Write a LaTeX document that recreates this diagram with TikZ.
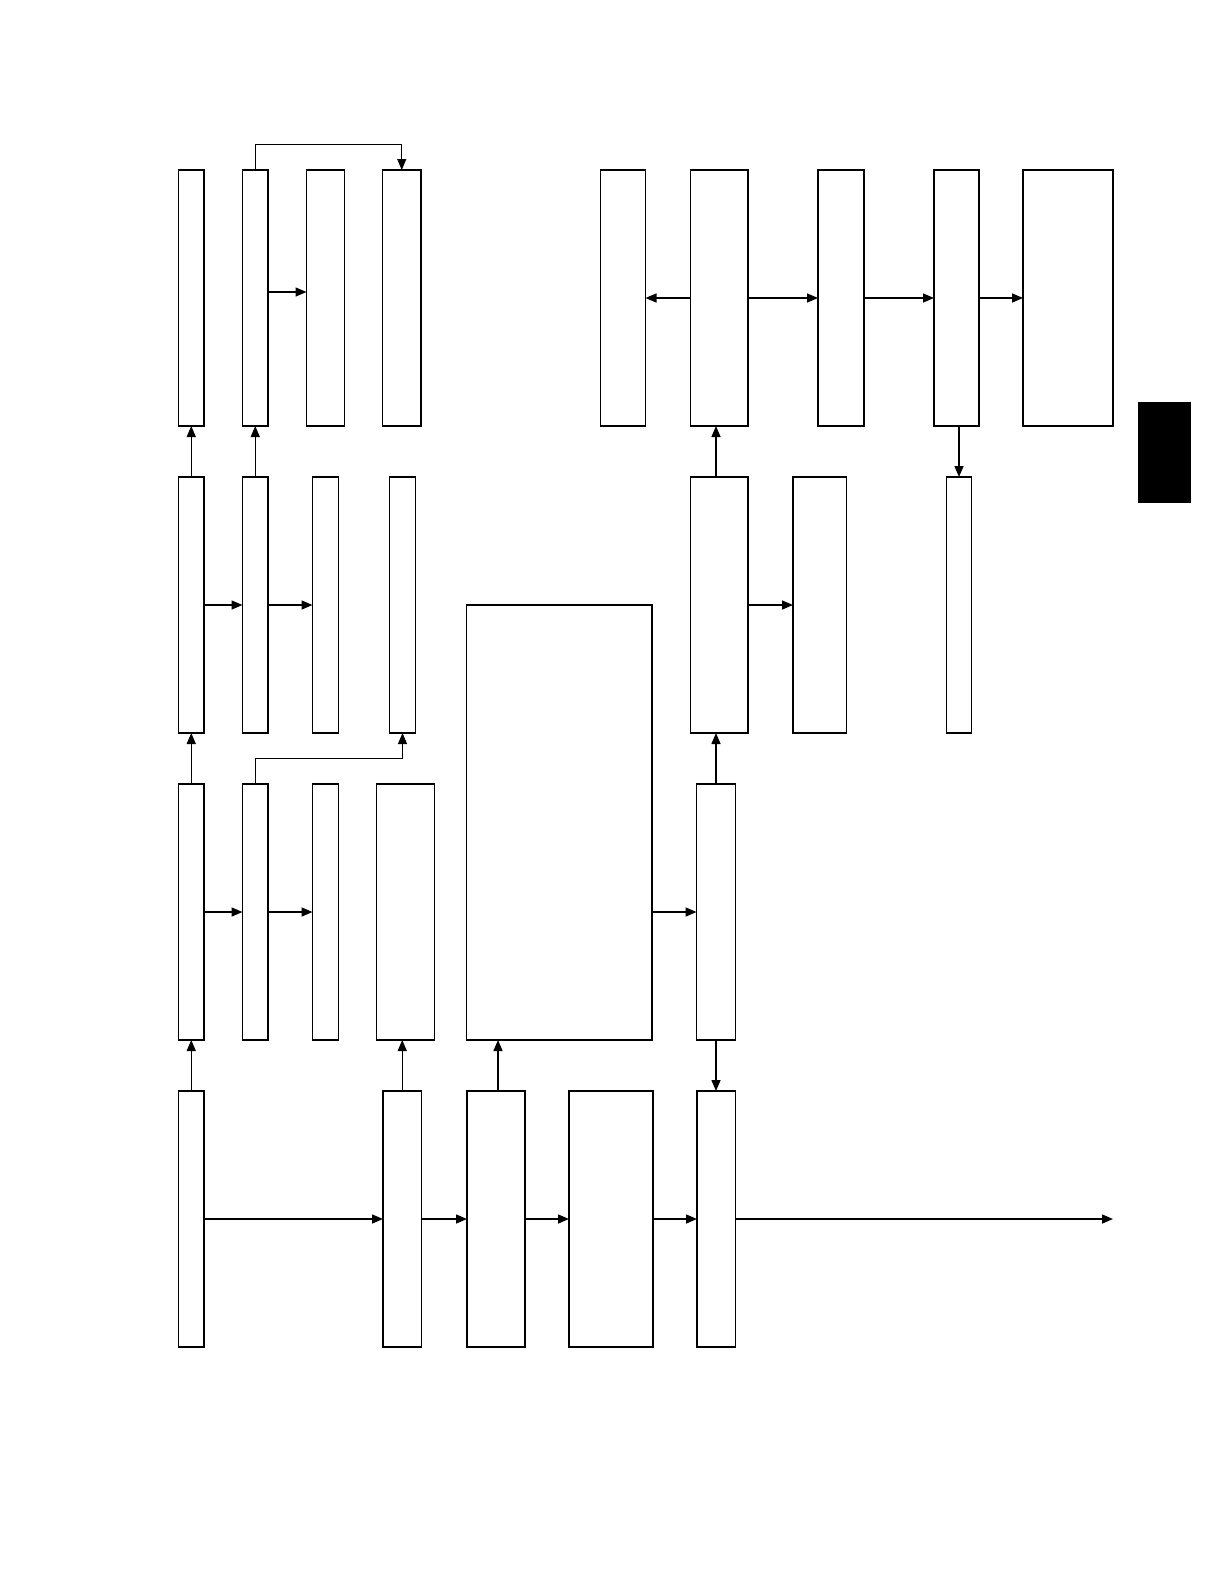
\documentclass[tikz,border=0pt]{standalone}
\usetikzlibrary{arrows.meta}
\tikzset{
  box/.style={draw, line width=1.4pt, fill=white, inner sep=0pt, outer sep=0pt},
  arr/.style={line width=1.5pt, -{Triangle[length=11pt,width=9pt]}},
  thinarr/.style={line width=0.9pt, -{Triangle[length=11pt,width=9pt]}},
}
\newcommand\mybox[5]{\node[box, minimum width={(#3-#2)*1pt}, minimum height={(#5-#4)*1pt}] (#1) at ({(#2+#3)/2},{(#4+#5)/2}) {};}
\begin{document}
\begin{tikzpicture}[x=1pt,y=-1pt]
\useasboundingbox (0,0) rectangle (1224,1584);
% Row 1
\mybox{A1}{178.5}{204}{170}{426}
\mybox{A2}{242.5}{268}{170}{426}
\mybox{A3}{306.5}{344.5}{170}{426}
\mybox{A4}{382.5}{421}{170}{426}
\mybox{A5}{600.5}{645.5}{170}{426}
\mybox{A6}{690.5}{748}{170}{426}
\mybox{A7}{818}{864}{170}{426}
\mybox{A8}{934}{979}{170}{426}
\mybox{A9}{1023}{1113}{170}{426}
% Row 2
\mybox{B1}{178.5}{204}{477}{733}
\mybox{B2}{242.5}{268}{477}{733}
\mybox{B3}{312.5}{338.5}{477}{733}
\mybox{B4}{389.5}{415.5}{477}{733}
\mybox{B6}{690.5}{748}{477}{733}
\mybox{B7}{793}{846.5}{477}{733}
\mybox{B9}{946.5}{971.5}{477}{733}
% Row 3
\mybox{C1}{178.5}{204}{784}{1040}
\mybox{C2}{242.5}{268}{784}{1040}
\mybox{C3}{312.5}{338.5}{784}{1040}
\mybox{C4}{376.5}{434.5}{784}{1040}
\mybox{Big}{466.5}{652}{605}{1040}
\mybox{C5}{696.5}{735.5}{784}{1040}
% Row 4
\mybox{D1}{178.5}{204}{1091}{1347}
\mybox{D2}{383}{421.5}{1091}{1347}
\mybox{D3}{467}{525}{1091}{1347}
\mybox{D4}{569}{653}{1091}{1347}
\mybox{D5}{697}{735.5}{1091}{1347}
% black tab
\node[fill=black, draw=black, inner sep=0pt, minimum width=52pt, minimum height=100pt] (tab) at (1164,452) {};
\coordinate (out) at (1113,1219);
% Row 1 connectors
\draw[arr] ([yshift=6pt]A2.east) -- ([yshift=6pt]A3.west);
\draw[thinarr] (A2.north) -- (A2.north |- 0,144) -| (A4.north);
\draw[arr] (A6.west) -- (A5.east);
\draw[arr] (A6.east) -- (A7.west);
\draw[arr] (A7.east) -- (A8.west);
\draw[arr] (A8.east) -- (A9.west);
\draw[arr] (B9.north |- A8.south) -- (B9.north);
% Row 2 connectors
\draw[arr] (B1.north) -- (A1.south);
\draw[arr] (B2.north) -- (A2.south);
\draw[arr] (B1.east) -- (B2.west);
\draw[arr] (B2.east) -- (B3.west);
\draw[arr] (B6.east) -- (B7.west);
\draw[arr] (C5.north |- B6.north) -- (C5.north |- A6.south);
% Row 3 connectors
\draw[arr] (C1.north) -- (B1.south);
\draw[thinarr] (C2.north) -- (C2.north |- 0,758) -| (B4.south);
\draw[arr] (C1.east) -- (C2.west);
\draw[arr] (C2.east) -- (C3.west);
\draw[arr] (Big.east |- C5.west) -- (C5.west);
\draw[arr] (C5.north) -- (C5.north |- B6.south);
\draw[arr] (C5.south) -- (C5.south |- D5.north);
% Row 4 connectors
\draw[arr] (D1.north) -- (C1.south);
\draw[arr] (D2.north) -- (D2.north |- C4.south);
\draw[arr] ([xshift=2pt]D3.north) -- ([xshift=2pt]D3.north |- Big.south);
\draw[arr] (D1.east) -- (D2.west);
\draw[arr] (D2.east) -- (D3.west);
\draw[arr] (D3.east) -- (D4.west);
\draw[arr] (D4.east) -- (D5.west);
\draw[arr] (D5.east) -- (out);
\end{tikzpicture}
\end{document}
